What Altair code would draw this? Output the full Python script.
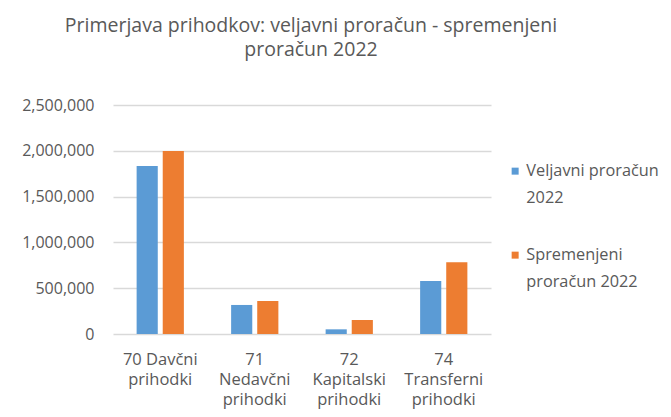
import altair as alt
import pandas as pd

categories = ["70 Davčni|prihodki", "71|Nedavčni|prihodki", "72|Kapitalski|prihodki", "74|Transferni|prihodki"]
series = ["Veljavni proračun|2022", "Spremenjeni|proračun 2022"]
veljavni = [1834000, 317000, 51000, 579000]
spremenjeni = [1998000, 360000, 153000, 783000]
colors = ["#5B9BD5", "#ED7D31"]
y_ticks = [0, 500000, 1000000, 1500000, 2000000, 2500000]

rows = []
for i, c in enumerate(categories):
    rows.append({"cat": c, "series": series[0], "value": veljavni[i]})
    rows.append({"cat": c, "series": series[1], "value": spremenjeni[i]})
df = pd.DataFrame(rows)

FONT = "Open Sans"
GRAY = "#595959"

chart = alt.Chart(df).mark_bar().encode(
    x=alt.X("cat:N", sort=categories,
            scale=alt.Scale(paddingInner=0.5, paddingOuter=0.25),
            axis=alt.Axis(title=None, labelAngle=0, labelExpr="split(datum.label, '|')",
                          ticks=False, domain=False, labelPadding=17, labelFontSize=16.5,
                          labelLineHeight=20, labelColor=GRAY, labelFont=FONT, grid=False)),
    xOffset=alt.XOffset("series:N", sort=series,
                        scale=alt.Scale(paddingInner=0.19, paddingOuter=0)),
    y=alt.Y("value:Q", scale=alt.Scale(domain=[0, 2500000], nice=False),
            axis=alt.Axis(title=None, values=y_ticks, format=",d", ticks=False, domain=False,
                          labelPadding=19, labelFontSize=16, labelColor=GRAY, labelFont=FONT,
                          gridColor="#d9d9d9", gridWidth=1.5)),
    color=alt.Color("series:N", sort=series,
                    scale=alt.Scale(domain=series, range=colors),
                    legend=alt.Legend(title=None, orient="none", legendX=394, legendY=58,
                                      labelExpr="split(datum.label, '|')",
                                      symbolType="square", symbolSize=49, symbolStrokeWidth=0,
                                      labelFont=FONT, labelFontSize=16.3, labelColor=GRAY,
                                      labelBaseline="middle", labelOffset=3, rowPadding=40,
                                      labelLimit=300)),
).properties(
    width=378, height=229,
    title=alt.Title(["Primerjava prihodkov: veljavni proračun - spremenjeni", "proračun 2022"],
                    font=FONT, fontSize=19.5, fontWeight="normal", color=GRAY,
                    lineHeight=24, anchor="middle", offset=37, dx=9),
    autosize=alt.AutoSizeParams(type="none"),
    padding={"left": 105, "top": 97, "right": 172, "bottom": 75},
).configure(style={"guide-label": {"lineHeight": 27}}).configure_view(strokeWidth=0)

chart.save("out.html", embed_options={"renderer": "svg", "actions": False})
